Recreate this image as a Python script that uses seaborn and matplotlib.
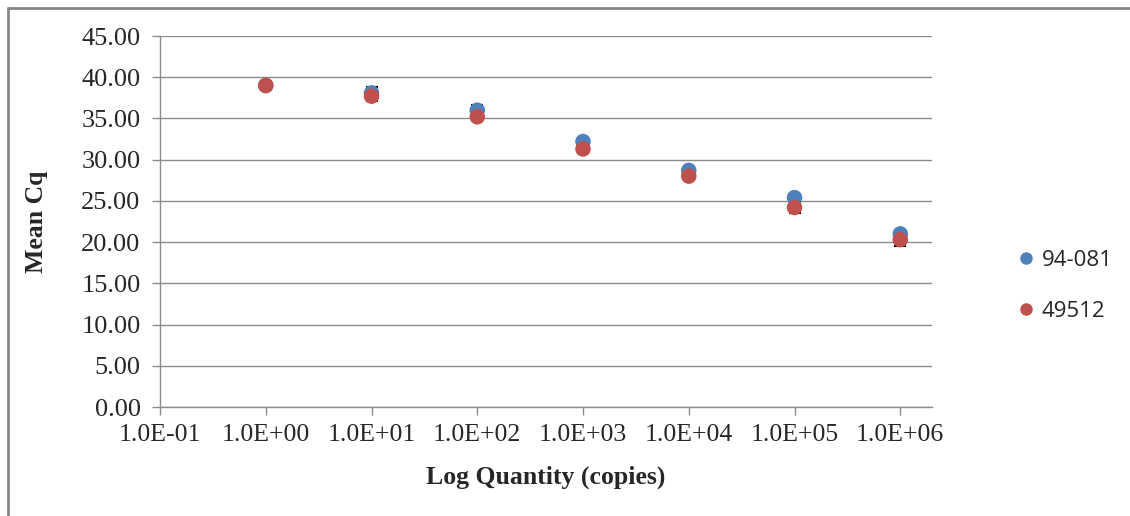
#scatter of mean Cq vs log quantity for two strains
import pandas as pd
import seaborn as sns
from matplotlib import pyplot as plt

#values
quantity = [1e0, 1e1, 1e2, 1e3, 1e4, 1e5, 1e6]
cq_94081 = [39.0, 38.1, 36.0, 32.2, 28.7, 25.4, 21.0]
err_94081 = [0.2, 0.7, 0.6, 0.4, 0.2, 0.3, 0.3]
cq_49512 = [39.0, 37.7, 35.2, 31.3, 28.0, 24.2, 20.3]
err_49512 = [0.2, 0.6, 0.3, 0.5, 0.2, 0.7, 0.8]
series = ['94-081', '49512']
colors = ['#4F81BD', '#C0504D']
yticks = [0, 5, 10, 15, 20, 25, 30, 35, 40, 45]
xticks = [1e-1, 1e0, 1e1, 1e2, 1e3, 1e4, 1e5, 1e6]
xticklabels = ['1.0E-01', '1.0E+00', '1.0E+01', '1.0E+02', '1.0E+03', '1.0E+04', '1.0E+05', '1.0E+06']

df = pd.DataFrame({
    'quantity': quantity * 2,
    'cq': cq_94081 + cq_49512,
    'err': err_94081 + err_49512,
    'strain': [series[0]] * len(quantity) + [series[1]] * len(quantity),
})

sns.set_style('white')
plt.rcParams['font.family'] = ['Liberation Serif', 'DejaVu Serif']

fig = plt.figure(figsize=(11.3, 5.16), dpi=100)
ax = fig.add_axes([160 / 1130, 109 / 516, 772 / 1130, 371 / 516])

#error bars behind markers
for name in series:
    d = df[df['strain'] == name]
    ax.errorbar(d['quantity'], d['cq'], yerr=d['err'], fmt='none', ecolor='black',
                elinewidth=1, capsize=4, capthick=1.5, zorder=2)

sns.scatterplot(data=df, x='quantity', y='cq', hue='strain', palette=colors,
                s=125, edgecolor='none', ax=ax, zorder=3, legend=False)

ax.set_xscale('log')
ax.set_xlim(1e-1, 10 ** 6.3)
ax.set_ylim(0, 45)
ax.set_xticks(xticks)
ax.set_xticklabels(xticklabels, fontsize=18.5)
ax.minorticks_off()
ax.set_yticks(yticks)
ax.set_yticklabels(['%.2f' % v for v in yticks], fontsize=19)
ax.yaxis.grid(True, color='#8c8c8c', linewidth=1)
ax.xaxis.grid(False)
for s in ['top', 'right']:
    ax.spines[s].set_visible(False)
for s in ['left', 'bottom']:
    ax.spines[s].set_color('#8c8c8c')
    ax.spines[s].set_linewidth(1)
ax.tick_params(axis='both', direction='out', length=6, width=1, color='#8c8c8c',
               left=True, bottom=True)
ax.tick_params(axis='y', pad=8)
ax.tick_params(axis='x', pad=6)
ax.set_xlabel('Log Quantity (copies)', fontsize=18.5, fontweight='bold', labelpad=14)
ax.set_ylabel('Mean Cq', fontsize=18.5, fontweight='bold', labelpad=24)

#legend on the right
handles = [plt.Line2D([], [], marker='o', linestyle='none', markersize=9,
                      markerfacecolor=c, markeredgecolor='none') for c in colors]
fig.legend(handles, series, loc='center left', bbox_to_anchor=(993 / 1130, 1 - 286 / 516),
           frameon=False, handletextpad=0.1, labelspacing=1.35,
           handlelength=1.2, prop={'family': 'Open Sans', 'size': 16})

#outer chart frame
fig.add_artist(plt.Line2D([8 / 1130, 1], [1 - 8 / 516, 1 - 8 / 516], color='#868686', linewidth=2))
fig.add_artist(plt.Line2D([8 / 1130, 8 / 1130], [0, 1 - 8 / 516], color='#868686', linewidth=2))

plt.savefig('out.png', dpi=100)
